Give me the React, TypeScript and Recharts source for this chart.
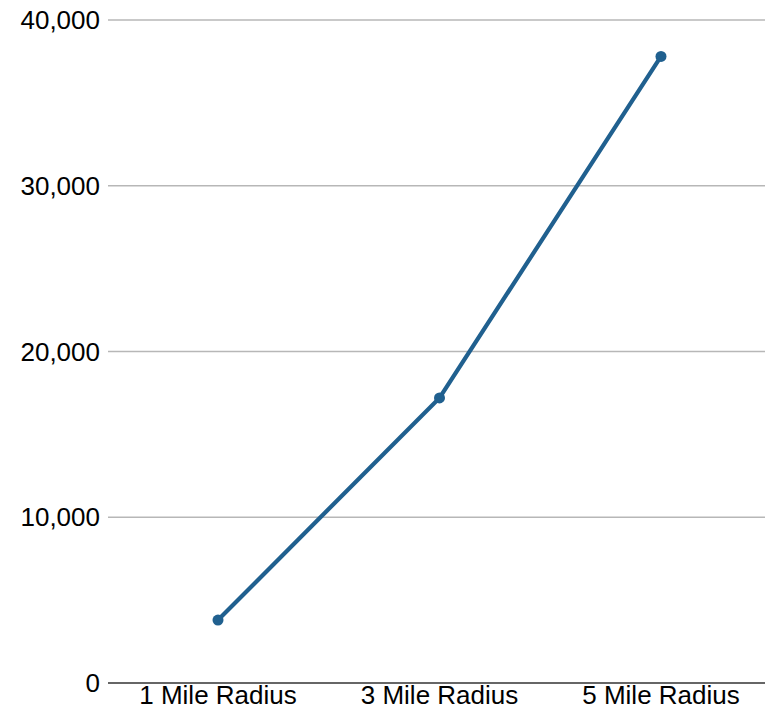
import { LineChart, Line, XAxis, YAxis, CartesianGrid } from 'recharts'

const categories = ['1 Mile Radius', '3 Mile Radius', '5 Mile Radius']
const values = [3800, 17200, 37800]
const yTicks = [0, 10000, 20000, 30000, 40000]

const data = categories.map((name, i) => ({ name, value: values[i] }))

const font = { fontFamily: 'Liberation Sans, Arial, sans-serif', fontSize: 26, fill: '#000' }

export default function App() {
  return (
    <div style={{ position: 'absolute', top: 0, left: 0, width: 765, height: 710, overflow: 'hidden', background: '#fff' }}>
      <LineChart width={771} height={710} data={data} margin={{ top: 20, right: 0, left: 0, bottom: 0 }}>
        <CartesianGrid vertical={false} stroke="#b7b7b7" strokeWidth={1.3} />
        <XAxis
          dataKey="name"
          stroke="#666"
          strokeWidth={2}
          tickLine={false}
          tickSize={0}
          tickMargin={3}
          height={27}
          tick={font}
          interval={0}
          padding={{ left: 110, right: 110 }}
        />
        <YAxis
          domain={[0, 40000]}
          ticks={yTicks}
          axisLine={false}
          tickLine={false}
          width={108}
          tick={font}
          tickFormatter={(v) => v.toLocaleString('en-US')}
        />
        <Line
          type="linear"
          dataKey="value"
          stroke="#20608f"
          strokeWidth={4.2}
          dot={{ r: 5.5, fill: '#20608f', stroke: '#20608f', strokeWidth: 0 }}
          isAnimationActive={false}
        />
      </LineChart>
    </div>
  )
}
